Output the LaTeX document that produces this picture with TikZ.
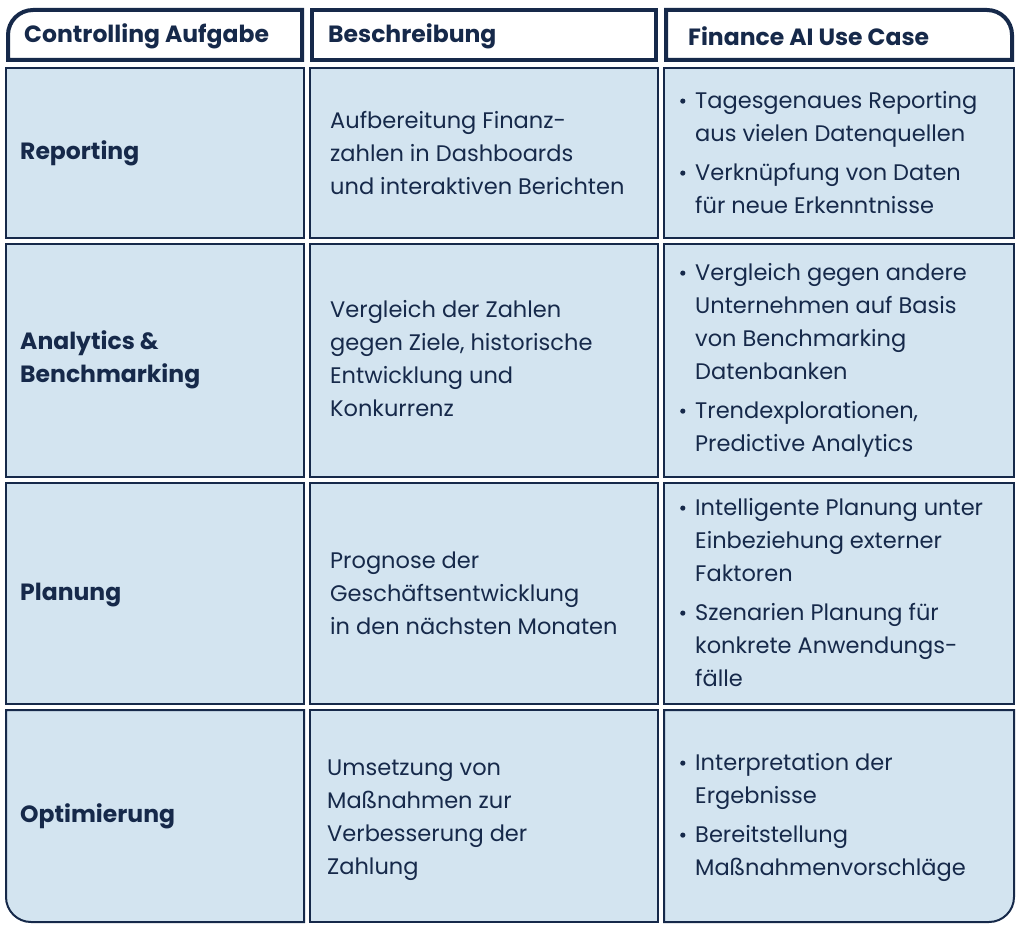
\documentclass[tikz,border=0pt]{standalone}
\usepackage{fontspec}
\setmainfont{Poppins}
\definecolor{navy}{HTML}{16294A}
\definecolor{cellb}{HTML}{D3E4F0}
\newcommand{\bitem}[1]{\makebox[15pt][l]{\tikz[baseline=-7pt]\fill[navy] (2.5pt,0) circle (2.6pt);}\begin{tabular}[t]{@{}l@{}}#1\end{tabular}}
\tikzset{
  cell/.style={draw=navy,line width=2pt,fill=cellb},
  head/.style={draw=navy,line width=4pt,fill=white},
  htxt/.style={anchor=west,text=navy,font=\fontsize{23.5}{28}\selectfont\bfseries,inner sep=0},
  rtxt/.style={anchor=west,text=navy,font=\fontsize{23.5}{33}\selectfont\bfseries,align=left,inner sep=0},
  dtxt/.style={anchor=west,text=navy,font=\fontsize{22.5}{33}\selectfont,align=left,inner sep=0},
  btxt/.style={anchor=west,text=navy,font=\fontsize{22.5}{33}\selectfont,align=left,inner sep=0},
}
\begin{document}
\begin{tikzpicture}[x=1pt,y=-1pt]
\useasboundingbox (0,0) rectangle (1024,933);
% header
\draw[head] (8,60) -- (8,33) [rounded corners=25] -- (8,10) [sharp corners]-- (302,10) -- (302,60) -- cycle;
\draw[head] (312,10) rectangle (656,60);
\draw[head] (666,10) [rounded corners=25]-- (1012,10) [sharp corners]-- (1012,60) -- (666,60) -- cycle;
% rows
\foreach \ya/\yb in {68/238,244/477,483/704}{
  \draw[cell] (6,\ya) rectangle (304,\yb);
  \draw[cell] (310,\ya) rectangle (658,\yb);
  \draw[cell] (664,\ya) rectangle (1014,\yb);
}
\draw[cell] (6,710) -- (304,710) -- (304,922) [rounded corners=25]-- (6,922) [sharp corners]-- cycle;
\draw[cell] (310,710) rectangle (658,922);
\draw[cell] (664,710) -- (1014,710) [rounded corners=25]-- (1014,922) [sharp corners]-- (664,922) -- cycle;
% header text
\node[htxt] (h1) at (24,36) {Controlling Aufgabe};
\node[htxt] (h2) at (328,36) {Beschreibung};
\node[htxt] (h3) at (688,36) {Finance AI Use Case};
% col1
\node[rtxt] (r1) at (20,153) {Reporting};
\node[rtxt] (r2) at (20,360) {Analytics \&\\Benchmarking};
\node[rtxt] (r3) at (20,595) {Planung};
\node[rtxt] (r4) at (20,816) {Optimierung};
% col2
\node[dtxt] (d1) at (330,153) {Aufbereitung Finanz-\\zahlen in Dashboards\\und interaktiven Berichten};
\node[dtxt] (d2) at (330,359) {Vergleich der Zahlen\\gegen Ziele, historische\\Entwicklung und\\Konkurrenz};
\node[dtxt] (d3) at (330,593) {Prognose der\\Geschäftsentwicklung\\in den nächsten Monaten};
\node[dtxt] (d4) at (327,820) {Umsetzung von\\Maßnahmen zur\\Verbesserung der\\Zahlung};
% col3
\node[btxt] (c1) at (680,154) {\bitem{Tagesgenaues Reporting\\aus vielen Datenquellen}\\[5pt]\bitem{Verknüpfung von Daten\\für neue Erkenntnisse}};
\node[btxt] (c2) at (680,359) {\bitem{Vergleich gegen andere\\Unternehmen auf Basis\\von Benchmarking\\Datenbanken}\\[5pt]\bitem{Trendexplorationen,\\Predictive Analytics}};
\node[btxt] (c3) at (680,594) {\bitem{Intelligente Planung unter\\Einbeziehung externer\\Faktoren}\\[5pt]\bitem{Szenarien Planung für\\konkrete Anwendungs-\\fälle}};
\node[btxt] (c4) at (680,816) {\bitem{Interpretation der\\Ergebnisse}\\[5pt]\bitem{Bereitstellung\\Maßnahmenvorschläge}};
\end{tikzpicture}
\end{document}
